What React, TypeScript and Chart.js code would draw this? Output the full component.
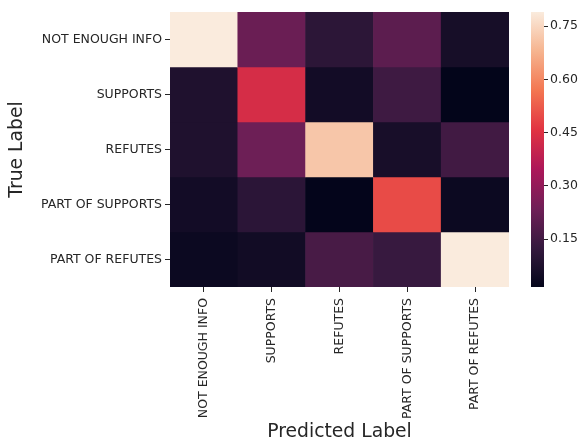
import React, { useEffect, useRef } from "react";
import { Chart, registerables } from "chart.js";

Chart.register(...registerables);

const trueLabels = ["NOT ENOUGH INFO", "SUPPORTS", "REFUTES", "PART OF SUPPORTS", "PART OF REFUTES"];
const predLabels = ["NOT ENOUGH INFO", "SUPPORTS", "REFUTES", "PART OF SUPPORTS", "PART OF REFUTES"];

// rows = true label, columns = predicted label
const rowNEI = [0.79, 0.225, 0.105, 0.2, 0.058];
const rowSupports = [0.077, 0.432, 0.05, 0.143, 0.015];
const rowRefutes = [0.075, 0.231, 0.716, 0.061, 0.148];
const rowPartSupports = [0.05, 0.103, 0.017, 0.498, 0.035];
const rowPartRefutes = [0.035, 0.048, 0.161, 0.13, 0.79];
const rows = [rowNEI, rowSupports, rowRefutes, rowPartSupports, rowPartRefutes];

const colorbarTicks = [0.15, 0.3, 0.45, 0.6, 0.75];
const vmin = 0.015;
const vmax = 0.79;

// approximate seaborn "rocket" colormap
const rocketStops: [number, number[]][] = [
  [0.0, [3, 5, 26]],
  [0.07, [28, 16, 44]],
  [0.143, [53, 25, 62]],
  [0.286, [112, 31, 87]],
  [0.429, [173, 23, 89]],
  [0.571, [225, 51, 66]],
  [0.714, [243, 118, 81]],
  [0.857, [246, 180, 143]],
  [1.0, [250, 235, 221]],
];

function rocket(t: number): string {
  t = Math.max(0, Math.min(1, t));
  for (let i = 1; i < rocketStops.length; i++) {
    const [t1, c1] = rocketStops[i];
    const [t0, c0] = rocketStops[i - 1];
    if (t <= t1) {
      const f = (t - t0) / (t1 - t0);
      const c = c0.map((v, k) => Math.round(v + (c1[k] - v) * f));
      return `rgb(${c[0]},${c[1]},${c[2]})`;
    }
  }
  return "rgb(250,235,221)";
}

const valueColor = (v: number) => rocket((v - vmin) / (vmax - vmin));

const TEXT = "#262626";
const FONT = "'DejaVu Sans', sans-serif";

export default function App() {
  const mainRef = useRef<HTMLCanvasElement>(null);
  const cbRef = useRef<HTMLCanvasElement>(null);

  useEffect(() => {
    Chart.defaults.font.family = FONT;
    const main = new Chart(mainRef.current!, {
      type: "bar",
      data: {
        labels: predLabels,
        datasets: rows.map((row, i) => ({
          label: trueLabels[i],
          data: row.map(() => [i, i + 1]),
          backgroundColor: row.map(valueColor),
          borderWidth: 0,
          barPercentage: 1,
          categoryPercentage: 1,
          grouped: false,
        })) as any,
      },
      options: {
        animation: false,
        responsive: false,
        maintainAspectRatio: false,
        layout: { padding: { top: 12, right: 71, left: 0, bottom: 0 } },
        plugins: { legend: { display: false }, tooltip: { enabled: false } },
        scales: {
          x: {
            type: "category",
            offset: true,
            grid: { offset: false, drawOnChartArea: false, drawTicks: true, tickLength: 5, color: TEXT },
            border: { display: false },
            ticks: { minRotation: 90, maxRotation: 90, autoSkip: false, padding: 6, color: TEXT, font: { size: 12.5 } },
            title: { display: true, text: "Predicted Label", color: TEXT, font: { size: 18.75, lineHeight: 1 }, padding: { top: 0, bottom: 0 } },
            afterFit: (s: any) => {
              s.height = 154;
            },
          },
          y: {
            type: "linear",
            min: 0,
            max: 5,
            reverse: true,
            afterBuildTicks: (s: any) => {
              s.ticks = trueLabels.map((_, i) => ({ value: i + 0.5 }));
            },
            grid: { drawOnChartArea: false, drawTicks: true, tickLength: 5, color: TEXT },
            border: { display: false },
            ticks: {
              padding: 3,
              color: TEXT,
              font: { size: 12.5 },
              callback: (v: any) => trueLabels[Math.floor(Number(v))],
            },
            title: { display: true, text: "True Label", color: TEXT, font: { size: 18.75, lineHeight: 1 }, padding: { top: 8, bottom: 0 } },
            afterFit: (s: any) => {
              s.width = 170;
            },
          },
        },
      } as any,
    });

    const cb = new Chart(cbRef.current!, {
      type: "bar",
      data: {
        labels: [""],
        datasets: [
          {
            data: [[vmin, vmax]],
            backgroundColor: (ctx: any) => {
              const a = ctx.chart.chartArea;
              if (!a) return "#000";
              const g = ctx.chart.ctx.createLinearGradient(0, a.bottom, 0, a.top);
              rocketStops.forEach(([t, c]) => g.addColorStop(t, `rgb(${c[0]},${c[1]},${c[2]})`));
              return g;
            },
            borderWidth: 0,
            barPercentage: 1,
            categoryPercentage: 1,
          },
        ] as any,
      },
      options: {
        animation: false,
        responsive: false,
        maintainAspectRatio: false,
        layout: { padding: { left: 11, top: 12, bottom: 154, right: 0 } },
        plugins: { legend: { display: false }, tooltip: { enabled: false } },
        scales: {
          x: { display: false },
          y: {
            position: "right",
            min: vmin,
            max: vmax,
            afterBuildTicks: (s: any) => {
              s.ticks = colorbarTicks.map((v) => ({ value: v }));
            },
            grid: { drawOnChartArea: false, drawTicks: true, tickLength: 4, color: TEXT },
            border: { display: false },
            ticks: { padding: 2, color: TEXT, font: { size: 12.5 }, callback: (v: any) => Number(v).toFixed(2) },
            afterFit: (s: any) => {
              s.width = 36;
            },
          },
        },
      } as any,
    });

    return () => {
      main.destroy();
      cb.destroy();
    };
  }, []);

  return (
    <div style={{ position: "absolute", left: 0, top: 0, width: 580, height: 441, background: "#fff" }}>
      <canvas ref={mainRef} width={580} height={441} style={{ position: "absolute", left: 0, top: 0 }} />
      <canvas ref={cbRef} width={60} height={441} style={{ position: "absolute", left: 520, top: 0 }} />
    </div>
  );
}
